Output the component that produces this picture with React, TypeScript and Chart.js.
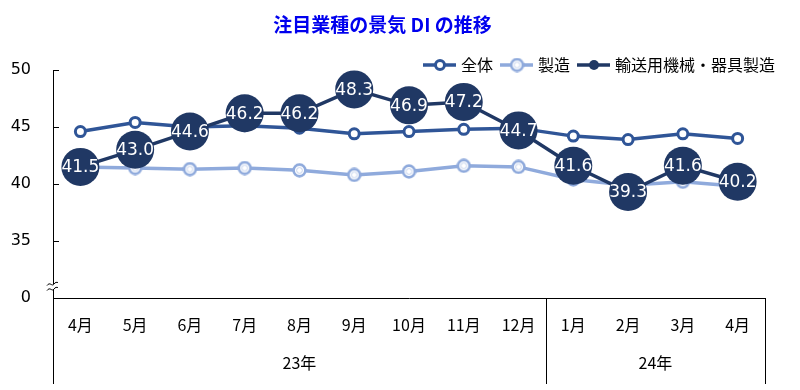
import React, { useEffect, useRef } from 'react';
import { Chart, registerables } from 'chart.js';

Chart.register(...registerables);

const months = ['4月', '5月', '6月', '7月', '8月', '9月', '10月', '11月', '12月', '1月', '2月', '3月', '4月'];
const years = ['23年', '24年'];
const yearSpans = [9, 4];
const seriesNames = ['全体', '製造', '輸送用機械・器具製造'];
const zentai = [44.6, 45.4, 45.0, 45.1, 44.9, 44.4, 44.6, 44.8, 44.9, 44.2, 43.9, 44.4, 44.0];
const seizo = [41.5, 41.4, 41.3, 41.4, 41.2, 40.8, 41.1, 41.6, 41.5, 40.4, 39.9, 40.2, 39.8];
const yusou = [41.5, 43.0, 44.6, 46.2, 46.2, 48.3, 46.9, 47.2, 44.7, 41.6, 39.3, 41.6, 40.2];
const yTickValues = [30, 35, 40, 45, 50];
const yTickLabels = ['0', '35', '40', '45', '50'];
const titleText = '注目業種の景気 DI の推移';

const C_ALL = '#2F5597';
const C_MFG = '#8FAADC';
const C_CAR = '#203864';
const JP = '"Noto Sans CJK JP", "Noto Sans", sans-serif';
const NUM = '"DejaVu Sans", Verdana, sans-serif';

function makeRing(size: number): HTMLCanvasElement {
  const c = document.createElement('canvas');
  c.width = size;
  c.height = size;
  const g = c.getContext('2d')!;
  const m = size / 2;
  g.beginPath();
  g.arc(m, m, m - 1.6, 0, Math.PI * 2);
  g.fillStyle = '#fff';
  g.fill();
  g.lineWidth = 2.6;
  g.strokeStyle = C_MFG;
  g.stroke();
  g.beginPath();
  g.arc(m, m, m - 4.6, 0, Math.PI * 2);
  g.lineWidth = 1;
  g.strokeStyle = '#C5D3EE';
  g.stroke();
  return c;
}

const decor = {
  id: 'decor',
  afterDatasetsDraw(chart: any) {
    const { ctx } = chart;
    const meta = chart.getDatasetMeta(2);
    ctx.save();
    ctx.fillStyle = '#fff';
    ctx.font = `17px ${NUM}`;
    ctx.textAlign = 'center';
    ctx.textBaseline = 'middle';
    meta.data.forEach((pt: any, i: number) => {
      ctx.fillText(yusou[i].toFixed(1), pt.x, pt.y + 1);
    });
    ctx.restore();
  },
  afterDraw(chart: any) {
    const { ctx, chartArea, scales } = chart;
    const x = scales.x;
    const y = scales.y;
    ctx.save();
    ctx.strokeStyle = '#000';
    ctx.lineWidth = 1;
    // inward tick marks on y axis
    yTickValues.forEach((v) => {
      if (v === 30) return;
      const py = Math.round(y.getPixelForValue(v)) + 0.5;
      ctx.beginPath();
      ctx.moveTo(chartArea.left, py);
      ctx.lineTo(chartArea.left + 6, py);
      ctx.stroke();
    });
    // category box lines + year labels
    const bottom = chart.height - 6;
    const half = (x.getPixelForValue(1) - x.getPixelForValue(0)) / 2;
    const leftX = Math.round(x.getPixelForValue(0) - half) + 0.5;
    ctx.beginPath();
    ctx.moveTo(leftX, chartArea.bottom);
    ctx.lineTo(leftX, bottom);
    ctx.stroke();
    let idx = 0;
    ctx.fillStyle = '#000';
    ctx.font = `16px ${JP}`;
    ctx.textAlign = 'center';
    ctx.textBaseline = 'middle';
    years.forEach((yl, k) => {
      const s = idx;
      const e = idx + yearSpans[k] - 1;
      const lx = Math.round(x.getPixelForValue(e) + half) + 0.5;
      ctx.beginPath();
      ctx.moveTo(lx, chartArea.bottom);
      ctx.lineTo(lx, bottom);
      ctx.stroke();
      const cx = (x.getPixelForValue(s) + x.getPixelForValue(e)) / 2;
      ctx.fillText(yl, cx, 363);
      idx += yearSpans[k];
    });
    // axis break mark
    const by = y.getPixelForValue(31);
    const bx = chartArea.left;
    ctx.fillStyle = '#fff';
    ctx.fillRect(bx - 2, by - 2.5, 4, 5);
    ctx.lineWidth = 1;
    [-2.5, 2.5].forEach((off) => {
      ctx.beginPath();
      ctx.moveTo(bx - 6, by + off + 1.5);
      ctx.bezierCurveTo(bx - 3, by + off - 3, bx - 1, by + off + 3, bx + 1, by + off);
      ctx.bezierCurveTo(bx + 2, by + off - 2, bx + 4, by + off - 2, bx + 5, by + off - 1.5);
      ctx.stroke();
    });
    // legend
    let lx = 423;
    const ly = 65;
    const colors = [C_ALL, C_MFG, C_CAR];
    ctx.font = `16px ${JP}`;
    ctx.textAlign = 'left';
    ctx.textBaseline = 'middle';
    seriesNames.forEach((name, i) => {
      ctx.strokeStyle = colors[i];
      ctx.lineWidth = 3.5;
      ctx.beginPath();
      ctx.moveTo(lx, ly);
      ctx.lineTo(lx + 33, ly);
      ctx.stroke();
      const mx = lx + 17;
      if (i === 0) {
        ctx.beginPath();
        ctx.arc(mx, ly, 4.5, 0, Math.PI * 2);
        ctx.fillStyle = '#fff';
        ctx.fill();
        ctx.lineWidth = 3;
        ctx.strokeStyle = C_ALL;
        ctx.stroke();
      } else if (i === 1) {
        const r = makeRing(15);
        ctx.drawImage(r, mx - 7.5, ly - 7.5);
      } else {
        ctx.beginPath();
        ctx.arc(mx, ly, 5, 0, Math.PI * 2);
        ctx.fillStyle = C_CAR;
        ctx.fill();
      }
      ctx.fillStyle = '#000';
      ctx.fillText(name, lx + 38, ly);
      lx += 38 + ctx.measureText(name).width + 7;
    });
    ctx.restore();
  },
};

export default function App() {
  const ref = useRef<HTMLCanvasElement | null>(null);
  useEffect(() => {
    if (!ref.current) return;
    const ring = makeRing(15);
    const chart = new Chart(ref.current, {
      type: 'line',
      data: {
        labels: months,
        datasets: [
          {
            label: seriesNames[0],
            data: zentai,
            borderColor: C_ALL,
            borderWidth: 3.5,
            pointStyle: 'circle',
            pointRadius: 5,
            pointBorderWidth: 3,
            pointBackgroundColor: '#fff',
            pointBorderColor: C_ALL,
            order: 2,
            clip: false,
          } as any,
          {
            label: seriesNames[1],
            data: seizo,
            borderColor: C_MFG,
            borderWidth: 3.5,
            pointStyle: ring,
            pointRadius: 7,
            order: 3,
            clip: false,
          } as any,
          {
            label: seriesNames[2],
            data: yusou,
            borderColor: C_CAR,
            borderWidth: 3.5,
            pointStyle: 'circle',
            pointRadius: 19,
            pointBorderWidth: 0,
            pointBackgroundColor: C_CAR,
            pointBorderColor: C_CAR,
            order: 1,
            clip: false,
          } as any,
        ],
      },
      options: {
        animation: false,
        responsive: true,
        maintainAspectRatio: false,
        layout: { padding: { left: 0, right: 35, top: 0, bottom: 0 } },
        plugins: {
          legend: { display: false },
          tooltip: { enabled: false },
          title: {
            display: true,
            text: titleText,
            color: '#0000EE',
            font: { family: JP, size: 19, weight: 'bold' },
            padding: { top: 13, bottom: 34.2 },
          },
        },
        scales: {
          x: {
            type: 'category',
            offset: true,
            grid: { display: false, drawTicks: false },
            border: { display: true, color: '#000', width: 1 },
            ticks: {
              color: '#000',
              font: { family: JP, size: 16 },
              padding: 17,
              maxRotation: 0,
              autoSkip: false,
            },
            afterFit: (s: any) => {
              s.height = 92;
            },
          },
          y: {
            type: 'linear',
            min: 30,
            max: 50,
            afterBuildTicks: (s: any) => {
              s.ticks = yTickValues.map((v) => ({ value: v }));
            },
            grid: { display: false, drawTicks: false },
            border: { display: true, color: '#000', width: 1 },
            ticks: {
              color: '#000',
              font: { family: NUM, size: 16 },
              padding: 22,
              callback: (v: any) => {
                const i = yTickValues.indexOf(Number(v));
                return i >= 0 ? yTickLabels[i] : '';
              },
            },
            afterFit: (s: any) => {
              s.width = 53;
            },
          },
        },
      },
      plugins: [decor],
    });
    return () => chart.destroy();
  }, []);
  return (
    <div style={{ position: 'fixed', left: 0, top: 0, width: 800, height: 390, background: '#fff' }}>
      <canvas ref={ref} />
    </div>
  );
}
